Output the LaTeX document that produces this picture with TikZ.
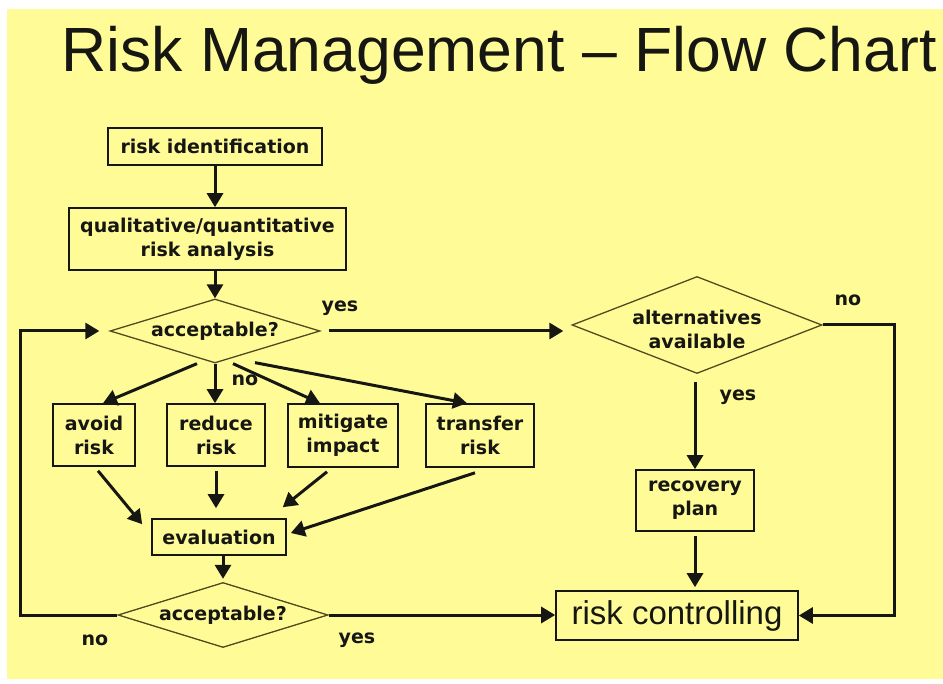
\documentclass[tikz,border=0pt]{standalone}
\usepackage{fontspec}
\setmainfont{DejaVu Sans}
\newfontfamily\titlefont{Liberation Sans}
\usetikzlibrary{arrows.meta,calc,shapes.geometric}
\definecolor{bgyellow}{RGB}{255,252,152}
\definecolor{ink}{RGB}{22,22,18}
\definecolor{olive}{RGB}{80,75,30}
\tikzset{
  box/.style={draw=ink, line width=1.6pt, inner sep=0pt, align=center,
    font=\bfseries\fontsize{19}{24}\selectfont, text=ink},
  dia/.style={diamond, draw=olive, line width=1.3pt, inner sep=0pt},
  lbl/.style={inner sep=0pt, align=center, font=\bfseries\fontsize{19}{24}\selectfont, text=ink},
  conn/.style={line width=3pt, draw=ink, -{Triangle[length=14pt,width=16pt]}},
}
\begin{document}
\begin{tikzpicture}[x=1pt,y=-1pt]
\useasboundingbox (0,0) rectangle (943,684);
\fill[white] (0,0) rectangle (943,684);
\fill[bgyellow] (7,9) rectangle (943,679);

\node[anchor=base west, inner sep=0pt, text=ink, font=\titlefont\fontsize{62.5}{70}\selectfont] (title) at (61,72) {Risk Management – Flow Chart};

\node[box, minimum width=214pt, minimum height=37pt] (rid) at (215,146.5) {risk identification};
\node[box, minimum width=277pt, minimum height=62pt] (qual) at (207.5,239) {qualitative/quantitative\\risk analysis};
\node[dia, minimum width=210pt, minimum height=64pt] (acc1) at (215,331) {};
\node[lbl] (acc1t) at (acc1) {acceptable?};
\node[box, minimum width=82pt, minimum height=62pt] (avoid) at (94,435) {avoid\\risk};
\node[box, minimum width=98pt, minimum height=62pt] (reduce) at (216,435) {reduce\\risk};
\node[box, minimum width=110pt, minimum height=63pt] (mitig) at (343,435.5) {mitigate\\impact};
\node[box, minimum width=108pt, minimum height=63pt] (transf) at (480,435.5) {transfer\\risk};
\node[box, minimum width=134pt, minimum height=36pt] (eval) at (219,537) {evaluation};
\node[dia, minimum width=210pt, minimum height=65pt] (acc2) at (223,615) {};
\node[lbl] (acc2t) at (acc2) {acceptable?};
\node[dia, minimum width=250pt, minimum height=97pt] (alt) at (697,325) {};
\node[lbl] (altt) at (697,329) {alternatives\\available};
\node[box, minimum width=118pt, minimum height=61pt] (rec) at (695,500.5) {recovery\\plan};
\node[box, minimum width=242pt, minimum height=49pt, font=\titlefont\fontsize{33}{36}\selectfont] (rc) at (677,615.5) {risk controlling};

\coordinate (lx) at (20,615);
\coordinate (rx) at (894,0);

\draw[conn] (rid.south) -- (rid.south |- qual.north);
\draw[conn] (acc1.north |- qual.south) -- (acc1.north);
\draw[conn, shorten <=8pt, shorten >=8pt] (acc1.east) -- (acc1.east -| alt.west);
\draw[conn] ($(acc1.south)+(-18,0)$) -- ($(avoid.north)+(9,0)$);
\draw[conn] (acc1.south) -- (acc1.south |- reduce.north);
\draw[conn] ($(acc1.south)+(18,0)$) -- ($(mitig.north)+(-23,0)$);
\draw[conn] ($(acc1.south)+(40,-1)$) -- ($(transf.north)+(-13,0)$);
\draw[conn] ($(avoid.south)+(4,4)$) -- ($(eval.north west)+(-9,6)$);
\draw[conn] ($(reduce.south)+(0,4)$) -- ($(reduce.south |- eval.north)+(0,-10)$);
\draw[conn] ($(mitig.south)+(-16,4)$) -- ($(eval.north east)+(-4,-11)$);
\draw[conn] ($(transf.south)+(-5,5)$) -- ($(eval.east)+(4,-4)$);
\draw[conn, shorten >=3pt] (acc2.north |- eval.south) -- (acc2.north);
\draw[conn, shorten >=10pt] (acc2.west) -- (lx) -- (lx |- acc1.west) -- (acc1.west);
\draw[conn] (acc2.east) -- (acc2.east -| rc.west);
\draw[conn] (alt.east) -- (alt.east -| rx) -- (rx |- rc.east) -- (rc.east);
\draw[conn, shorten <=8pt] (rec.north |- alt.south) -- (rec.north);
\draw[conn, shorten <=4pt, shorten >=3pt] (rec.south) -- (rec.south |- rc.north);

\node[lbl] (yes1) at (340,308) {yes};
\node[lbl] (no1) at (245,380) {no};
\node[lbl] (no2) at (848,300) {no};
\node[lbl] (yes2) at (738,397) {yes};
\node[lbl] (no3) at (95,640) {no};
\node[lbl] (yes3) at (357,640) {yes};
\end{tikzpicture}
\end{document}
